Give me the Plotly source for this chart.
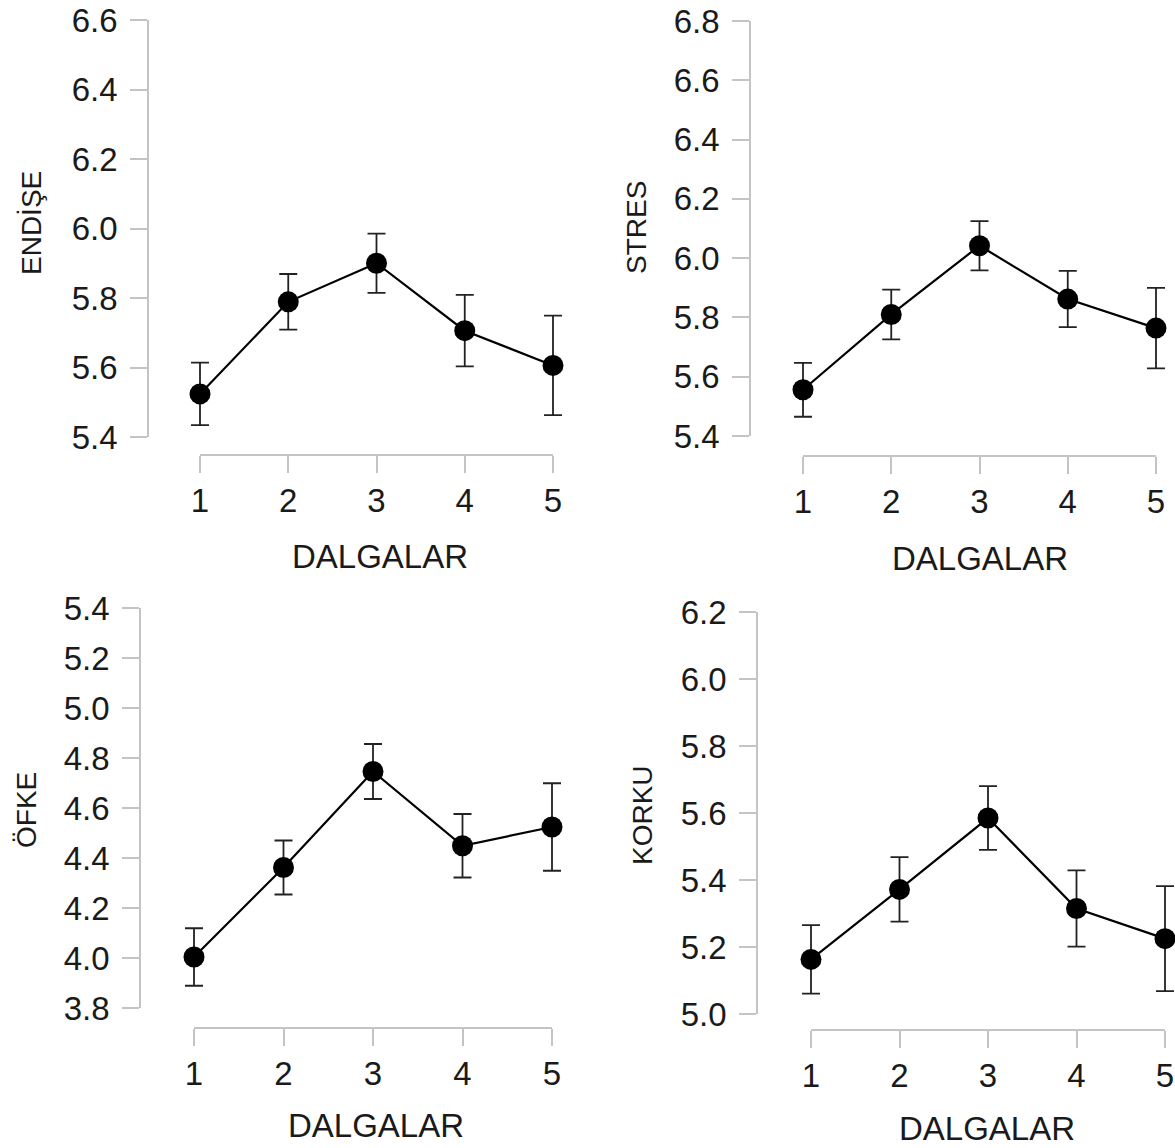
import plotly.graph_objects as go

# ---------------- data ----------------
waves = [1, 2, 3, 4, 5]
x_tick_labels = ["1", "2", "3", "4", "5"]
x_title = "DALGALAR"

endise = [5.524, 5.789, 5.900, 5.706, 5.606]
endise_err = [0.090, 0.080, 0.085, 0.103, 0.143]

stres = [5.556, 5.810, 6.042, 5.862, 5.764]
stres_err = [0.091, 0.084, 0.083, 0.095, 0.136]

ofke = [4.004, 4.362, 4.746, 4.449, 4.524]
ofke_err = [0.115, 0.108, 0.110, 0.127, 0.175]

korku = [5.163, 5.372, 5.585, 5.315, 5.225]
korku_err = [0.102, 0.096, 0.095, 0.114, 0.157]

y_titles = ["ENDİŞE", "STRES", "ÖFKE", "KORKU"]
y_ranges = [[5.4, 6.6], [5.4, 6.8], [3.8, 5.4], [5.0, 6.2]]
y_tickvals = [
    [5.4, 5.6, 5.8, 6.0, 6.2, 6.4, 6.6],
    [5.4, 5.6, 5.8, 6.0, 6.2, 6.4, 6.6, 6.8],
    [3.8, 4.0, 4.2, 4.4, 4.6, 4.8, 5.0, 5.2, 5.4],
    [5.0, 5.2, 5.4, 5.6, 5.8, 6.0, 6.2],
]
series = [endise, stres, ofke, korku]
errors = [endise_err, stres_err, ofke_err, korku_err]

# ---------------- layout (pixel geometry, in page pixels) ----------------
W, H = 1175, 1148
geom = [
    dict(yx=148, yt=20, yb=437, x1=200, x5=553, xy=455, tt=(31, 223), xt=(380, 556)),
    dict(yx=750, yt=21, yb=436, x1=803, x5=1156, xy=456, tt=(636, 228), xt=(980, 558)),
    dict(yx=140, yt=608, yb=1008, x1=194, x5=552, xy=1028, tt=(26, 810), xt=(376, 1125)),
    dict(yx=757, yt=612, yb=1014, x1=811, x5=1165, xy=1030, tt=(642, 815), xt=(987, 1128)),
]


def px(v):
    return v / W


def py(v):
    return 1 - v / H


FONT = "Liberation Sans, Arial, sans-serif"
TXT = "#1a1a1a"
AX = "#c4c4c4"
TICK_FS = 33

fig = go.Figure()
layout = dict(
    width=W, height=H,
    margin=dict(l=0, r=0, t=0, b=0, pad=0, autoexpand=False),
    paper_bgcolor="white", plot_bgcolor="rgba(0,0,0,0)",
    showlegend=False,
    font=dict(family=FONT, color=TXT),
    annotations=[],
)

pad = 40
for i in range(4):
    g = geom[i]
    n = i + 1
    xd = "x" if n == 1 else f"x{n}"
    yd = "y" if n == 1 else f"y{n}"
    xv = f"x{n + 4}"
    upp = 4.0 / (g["x5"] - g["x1"])
    left = g["x1"] - pad
    right = min(W, g["x5"] + pad)

    fig.add_trace(go.Scatter(
        x=waves, y=series[i], xaxis=xd, yaxis=yd,
        mode="lines+markers",
        line=dict(color="black", width=2.2),
        marker=dict(color="black", size=21),
        error_y=dict(type="data", array=errors[i], visible=True,
                     color="#222222", thickness=1.8, width=9),
        cliponaxis=False,
    ))
    fig.add_trace(go.Scatter(x=[None], y=[None], xaxis=xv, yaxis=yd,
                             mode="markers", hoverinfo="skip"))

    xkey = "xaxis" if n == 1 else f"xaxis{n}"
    ykey = "yaxis" if n == 1 else f"yaxis{n}"
    layout[xkey] = dict(
        domain=[px(left), px(right)],
        range=[1 - (g["x1"] - left) * upp, 5 + (right - g["x5"]) * upp],
        visible=False, anchor=yd, fixedrange=True, automargin=False,
    )
    layout[f"xaxis{n + 4}"] = dict(
        domain=[px(g["x1"]), px(g["x5"])],
        range=[1, 5],
        anchor="free", position=py(g["xy"]),
        showline=True, linecolor=AX, linewidth=1.5,
        ticks="outside", ticklen=17, tickwidth=1.5, tickcolor=AX,
        tickvals=waves, ticktext=x_tick_labels,
        tickfont=dict(size=TICK_FS, color=TXT, family=FONT),
        ticklabelstandoff=0, ticklabeloverflow="allow", automargin=False,
        showgrid=False, zeroline=False,
    )
    layout[ykey] = dict(
        domain=[py(g["yb"]), py(g["yt"])],
        range=y_ranges[i],
        anchor="free", position=px(g["yx"]),
        showline=True, linecolor=AX, linewidth=1.5,
        ticks="outside", ticklen=17, tickwidth=1.5, tickcolor=AX,
        tickvals=y_tickvals[i],
        ticktext=[f"{v:.1f}" for v in y_tickvals[i]],
        tickfont=dict(size=TICK_FS, color=TXT, family=FONT),
        ticklabelstandoff=6, ticklabeloverflow="allow", automargin=False,
        showgrid=False, zeroline=False,
    )
    layout["annotations"].append(dict(
        text=y_titles[i], xref="paper", yref="paper",
        x=px(g["tt"][0]), y=py(g["tt"][1]),
        xanchor="center", yanchor="middle", textangle=-90,
        showarrow=False, font=dict(size=28, color=TXT, family=FONT),
    ))
    layout["annotations"].append(dict(
        text=x_title, xref="paper", yref="paper",
        x=px(g["xt"][0]), y=py(g["xt"][1]),
        xanchor="center", yanchor="middle",
        showarrow=False, font=dict(size=TICK_FS, color=TXT, family=FONT),
    ))

fig.update_layout(**layout)
fig.write_html(
    "out.html",
    config={"displayModeBar": False},
    post_script="document.body.style.margin='0';document.body.style.overflow='hidden';",
)
